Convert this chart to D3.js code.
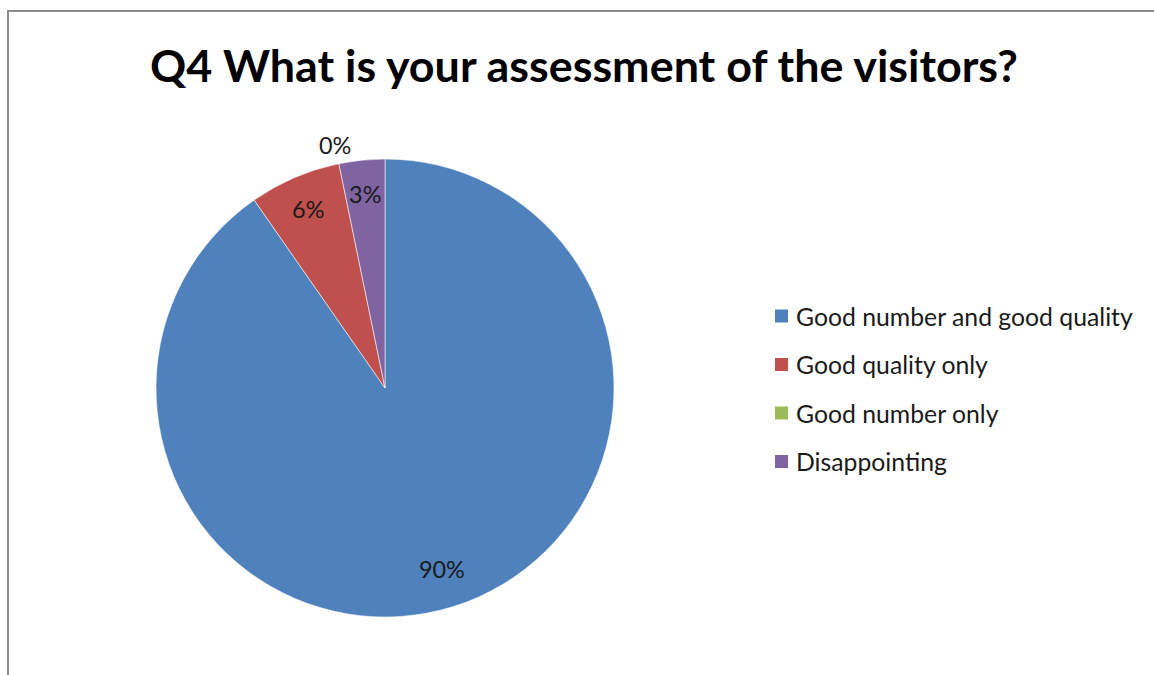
<!DOCTYPE html>
<html>
<head>
<meta charset="utf-8">
<script src="https://cdn.jsdelivr.net/npm/d3@7"></script>
<style>
  html, body { margin: 0; padding: 0; background: #fff; }
  svg { display: block; }
  text { font-family: Lato, "Open Sans", sans-serif; }
</style>
</head>
<body>
<svg id="chart" width="1154" height="675"></svg>
<script>
// Survey responses (number of respondents per answer)
const categories = ["Good number and good quality", "Good quality only", "Good number only", "Disappointing"];
const counts = [28, 2, 0, 1];
const colors = ["#4f81bd", "#c0504d", "#9bbb59", "#8064a2"];
const titleText = "Q4 What is your assessment of the visitors?";

const svg = d3.select("#chart");
const W = 1154, H = 675;

// Chart frame
svg.append("rect")
  .attr("x", 8).attr("y", 11)
  .attr("width", W + 20).attr("height", H + 20)
  .attr("fill", "#fff")
  .attr("stroke", "#8c8c8c").attr("stroke-width", 2);

// Fit a text element to a target width by adjusting its font size
function fitWidth(sel, target) {
  const node = sel.node();
  const fs = parseFloat(sel.attr("font-size"));
  const w = node.getComputedTextLength();
  sel.attr("font-size", fs * target / w);
  return fs * target / w;
}

// Title
const title = svg.append("text")
  .attr("x", 584).attr("y", 82)
  .attr("text-anchor", "middle")
  .attr("font-weight", "bold")
  .attr("font-size", 40)
  .attr("fill", "#000")
  .text(titleText);
fitWidth(title, 868);

// Pie
const cx = 385, cy = 388, R = 229;
const total = d3.sum(counts);
const data = categories.map((c, i) => ({ name: c, value: counts[i], color: colors[i] }));

const pie = d3.pie().value(d => d.value).sort(null);
const arcs = pie(data);
const arc = d3.arc().innerRadius(0).outerRadius(R);

const g = svg.append("g").attr("transform", `translate(${cx},${cy})`);

g.selectAll("path.slice")
  .data(arcs.filter(a => a.data.value > 0))
  .join("path")
  .attr("class", "slice")
  .attr("d", arc)
  .attr("fill", d => d.data.color)
  .attr("stroke", "rgba(255,255,255,0.55)")
  .attr("stroke-width", 1);

// Percentage labels: inside for non-empty slices, just outside for empty ones
const pct = v => Math.round(v / total * 100) + "%";
const labels = g.selectAll("text.lbl")
  .data(arcs)
  .join("text")
  .attr("class", "lbl")
  .attr("font-size", 20)
  .attr("fill", "#1a1a1a")
  .attr("text-anchor", "middle")
  .attr("dominant-baseline", "central")
  .attr("transform", d => {
    const a = (d.startAngle + d.endAngle) / 2;
    const r = d.data.value === 0 ? R + 19 : (d.endAngle - d.startAngle > Math.PI ? 0.83 * R : 0.85 * R);
    return `translate(${r * Math.sin(a)},${-r * Math.cos(a)})`;
  })
  .text(d => pct(d.data.value));
const lfs = fitWidth(labels.filter((d, i) => i === 0), 46);
labels.attr("font-size", lfs);

// Legend
const legend = svg.append("g").attr("transform", "translate(775,316)");
const rowH = 48.5;
const items = legend.selectAll("g.item")
  .data(data)
  .join("g")
  .attr("class", "item")
  .attr("transform", (d, i) => `translate(0,${i * rowH})`);

items.append("rect")
  .attr("x", 0).attr("y", -6.5)
  .attr("width", 13).attr("height", 13)
  .attr("fill", d => d.color);

const texts = items.append("text")
  .attr("x", 21).attr("y", 0)
  .attr("dominant-baseline", "central")
  .attr("font-size", 22)
  .attr("fill", "#1a1a1a")
  .text(d => d.name);

// Scale legend text so the longest entry spans the same width as drawn
const fs = fitWidth(texts.filter((d, i) => i === 0), 337);
texts.attr("font-size", fs);
</script>
</body>
</html>
